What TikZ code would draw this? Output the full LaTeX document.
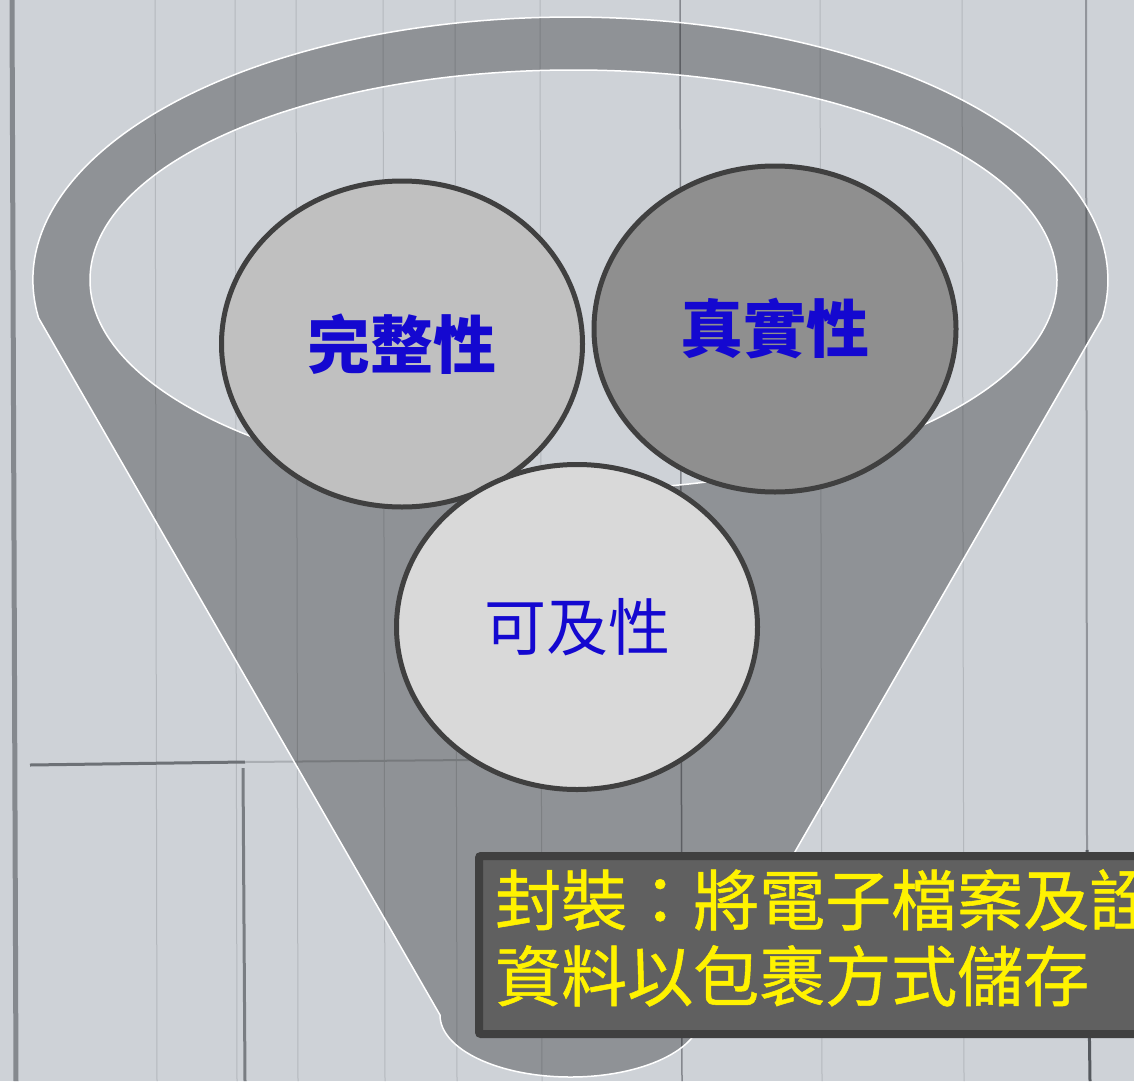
\documentclass[tikz,border=0pt]{standalone}
\usepackage{fontspec}
\newfontfamily\cjk{Noto Sans CJK TC}
\newfontfamily\cjkmed[FakeBold=0.8]{Noto Sans CJK TC}
\definecolor{woodbg}{HTML}{CED2D7}
\definecolor{seam}{HTML}{B4B8BD}
\definecolor{seamdark}{HTML}{55595E}
\definecolor{ringc}{HTML}{404040}
\definecolor{boxfill}{HTML}{606060}
\definecolor{textblue}{RGB}{20,8,208}
\definecolor{circA}{HTML}{C0C0C0}
\definecolor{circB}{HTML}{8F8F8F}
\definecolor{circC}{HTML}{D9D9D9}
\tikzset{
  seamline/.style={draw=seam, line width=1pt},
  bubble/.style={draw=ringc, line width=5pt, ellipse},
  bubbletext/.style={text=textblue, font=\cjk\fontsize{62}{70}\selectfont},
  notetext/.style={text=yellow, font=\cjkmed\fontsize{66}{76}\selectfont, inner sep=0pt, anchor=base west},
}
\usetikzlibrary{shapes.geometric}
\begin{document}
\begin{tikzpicture}[x=1pt,y=-1pt]
\useasboundingbox (0,0) rectangle (1134,1081);
\clip (0,0) rectangle (1134,1081);
% wood background
\fill[woodbg] (0,0) rectangle (1134,1081);
\foreach \sx in {155,235,296,383,455,540,820,962}{
  \draw[seamline] (\sx,0) -- (\sx+2,1081);
}
\draw[seamdark!50!seam, line width=1.5pt] (680,0) -- (682,1081);
\draw[seamdark!60!woodbg, line width=5pt] (12,0) -- (16,1081);
\draw[seamdark!50!woodbg, line width=2pt] (1086,0) -- (1087,850);
\draw[seamdark, line width=3pt] (1087,850) -- (1090,1081);
\draw[seamdark!80!woodbg, line width=3pt] (30,765) -- (245,762);
\draw[seamdark!70!woodbg, line width=3pt] (243,768) -- (245,1081);
\draw[seamdark!30!woodbg, line width=2pt] (245,762) -- (470,760);
% funnel
\path[fill=black, fill opacity=0.3, even odd rule]
  (38.6,318) arc[start angle=171.7, end angle=368.3, x radius=537.5, y radius=263]
  -- (701,1015) arc[start angle=0, end angle=180, x radius=130.5, y radius=62] -- cycle
  (573.5,280) ellipse[x radius=483.5, y radius=210];
\draw[white, line width=1.5pt]
  (38.6,318) arc[start angle=171.7, end angle=368.3, x radius=537.5, y radius=263]
  -- (701,1015) arc[start angle=0, end angle=180, x radius=130.5, y radius=62] -- cycle;
\draw[white, line width=1.5pt] (573.5,280) ellipse[x radius=483.5, y radius=210];
% bubbles
\node[bubble, fill=circA, minimum width=361pt, minimum height=326pt, inner sep=0pt] (wz) at (402,344) {};
\node[bubbletext, font=\cjk\bfseries\fontsize{63}{70}\selectfont] (wzt) at (wz.center) {完整性};
\node[bubble, fill=circB, minimum width=362pt, minimum height=326pt, inner sep=0pt] (zs) at (775,329) {};
\node[bubbletext, font=\cjk\bfseries\fontsize{63}{70}\selectfont] (zst) at (zs.center) {真實性};
\node[bubble, fill=circC, minimum width=361pt, minimum height=325pt, inner sep=0pt] (kj) at (577,627) {};
\node[bubbletext] (kjt) at (kj.center) {可及性};
% note box
\node[draw=ringc, fill=boxfill, line width=8pt, rounded corners=2pt, minimum width=700pt, minimum height=178pt, anchor=north west, inner sep=0pt] (box) at (475,852) {};
\node[notetext] (l1) at (495,925) {封裝：將電子檔案及詮};
\node[notetext] (l2) at (495,1001) {資料以包裹方式儲存};
\end{tikzpicture}
\end{document}
